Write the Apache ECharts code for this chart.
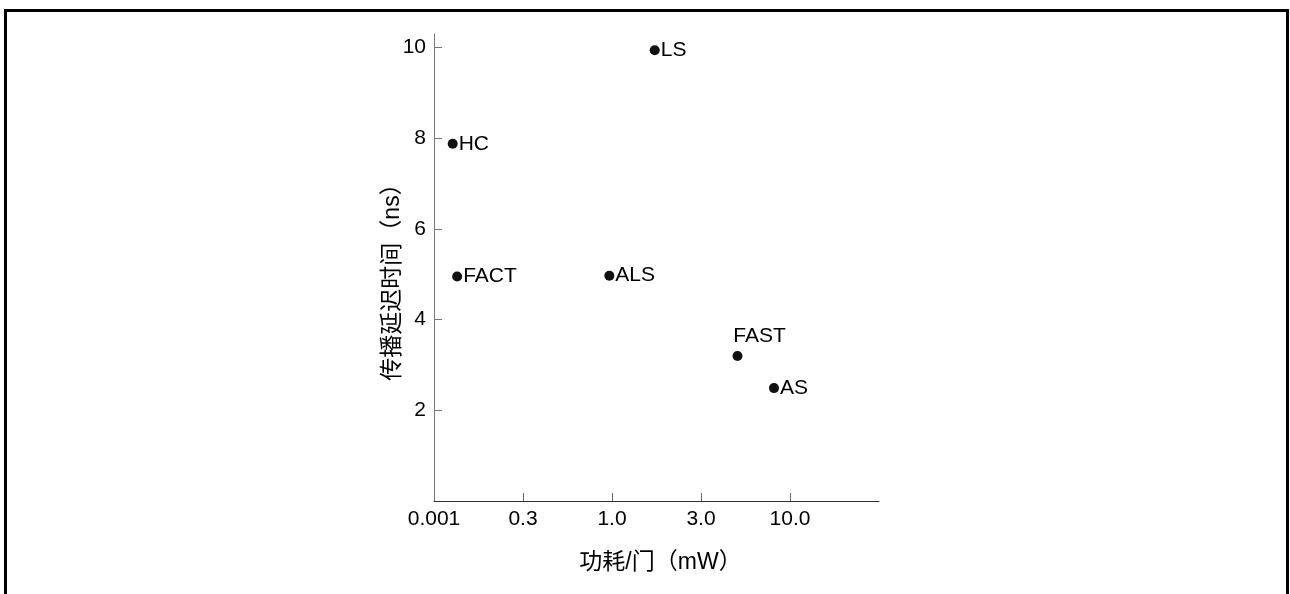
<!DOCTYPE html>
<html>
<head>
<meta charset="utf-8">
<script src="https://cdn.jsdelivr.net/npm/echarts@6/dist/echarts.min.js"></script>
<style>
  html, body { margin: 0; padding: 0; background: #fff; }
  #chart { position: absolute; left: 0; top: 0; width: 1290px; height: 594px; }
  #frame { position: absolute; left: 4px; top: 9px; width: 1279px; height: 700px;
           border-top: 3px solid #000; border-left: 3px solid #000; border-right: 3px solid #000; pointer-events: none; }
</style>
</head>
<body>
<div id="chart"></div>
<div id="frame"></div>
<script>
// Logic family names
const families = ['LS', 'HC', 'FACT', 'ALS', 'FAST', 'AS'];
// Position along the (non-linear) power axis, in tick-index units (0 = 0.001, 1 = 0.3, 2 = 1.0, 3 = 3.0, 4 = 10.0)
const powerPos = [2.48, 0.21, 0.26, 1.97, 3.41, 3.82];
// Propagation delay (ns)
const delayNs = [9.94, 7.88, 4.95, 4.97, 3.20, 2.49];
// X tick labels
const xTickLabels = ['0.001', '0.3', '1.0', '3.0', '10.0'];
// Y tick values
const yTicks = [2, 4, 6, 8, 10];

const FONT = "'Liberation Sans', 'Noto Sans CJK SC', Arial, sans-serif";
const TXT = '#000';

const data = families.map((n, i) => {
  const item = { name: n, value: [powerPos[i], delayNs[i]] };
  if (n === 'FAST') {
    item.label = { position: 'top', distance: 4, offset: [22, 0] };
  }
  return item;
});

const chart = echarts.init(document.getElementById('chart'));
chart.setOption({
  animation: false,
  backgroundColor: '#fff',
  grid: { left: 434, right: 411, top: 34, bottom: 93, containLabel: false },
  xAxis: {
    type: 'value',
    min: 0, max: 5,
    name: '功耗/门（mW）',
    nameLocation: 'middle',
    nameGap: 50,
    nameMoveOverlap: false,
    nameTextStyle: { fontFamily: FONT, fontSize: 23, color: TXT, padding: [0, 0, 0, 8] },
    axisLine: { lineStyle: { color: '#333', width: 1 } },
    axisTick: { show: true, inside: true, length: 8, customValues: [1, 2, 3, 4], lineStyle: { color: '#666' } },
    axisLabel: {
      customValues: [0, 1, 2, 3, 4],
      formatter: v => xTickLabels[Math.round(v)],
      fontFamily: FONT, fontSize: 21, color: TXT, margin: 8
    },
    splitLine: { show: false }
  },
  yAxis: {
    type: 'value',
    min: 0, max: 10.3,
    name: '传播延迟时间（ns）',
    nameLocation: 'middle',
    nameGap: 30,
    nameMoveOverlap: false,
    nameRotate: 90,
    nameTextStyle: { fontFamily: FONT, fontSize: 23, color: TXT, padding: [0, 18, 0, 0] },
    axisLine: { show: true, lineStyle: { color: '#777', width: 1 } },
    axisTick: { show: true, inside: true, length: 8, customValues: yTicks, lineStyle: { color: '#777' } },
    axisLabel: {
      customValues: yTicks,
      fontFamily: FONT, fontSize: 21, color: TXT, margin: 8
    },
    splitLine: { show: false }
  },
  series: [{
    type: 'scatter',
    symbol: 'circle',
    symbolSize: 10,
    itemStyle: { color: '#111', opacity: 1 },
    label: {
      show: true,
      position: 'right',
      distance: 1,
      formatter: p => p.name,
      fontFamily: FONT, fontSize: 21, color: TXT
    },
    data: data
  }]
});
</script>
</body>
</html>
